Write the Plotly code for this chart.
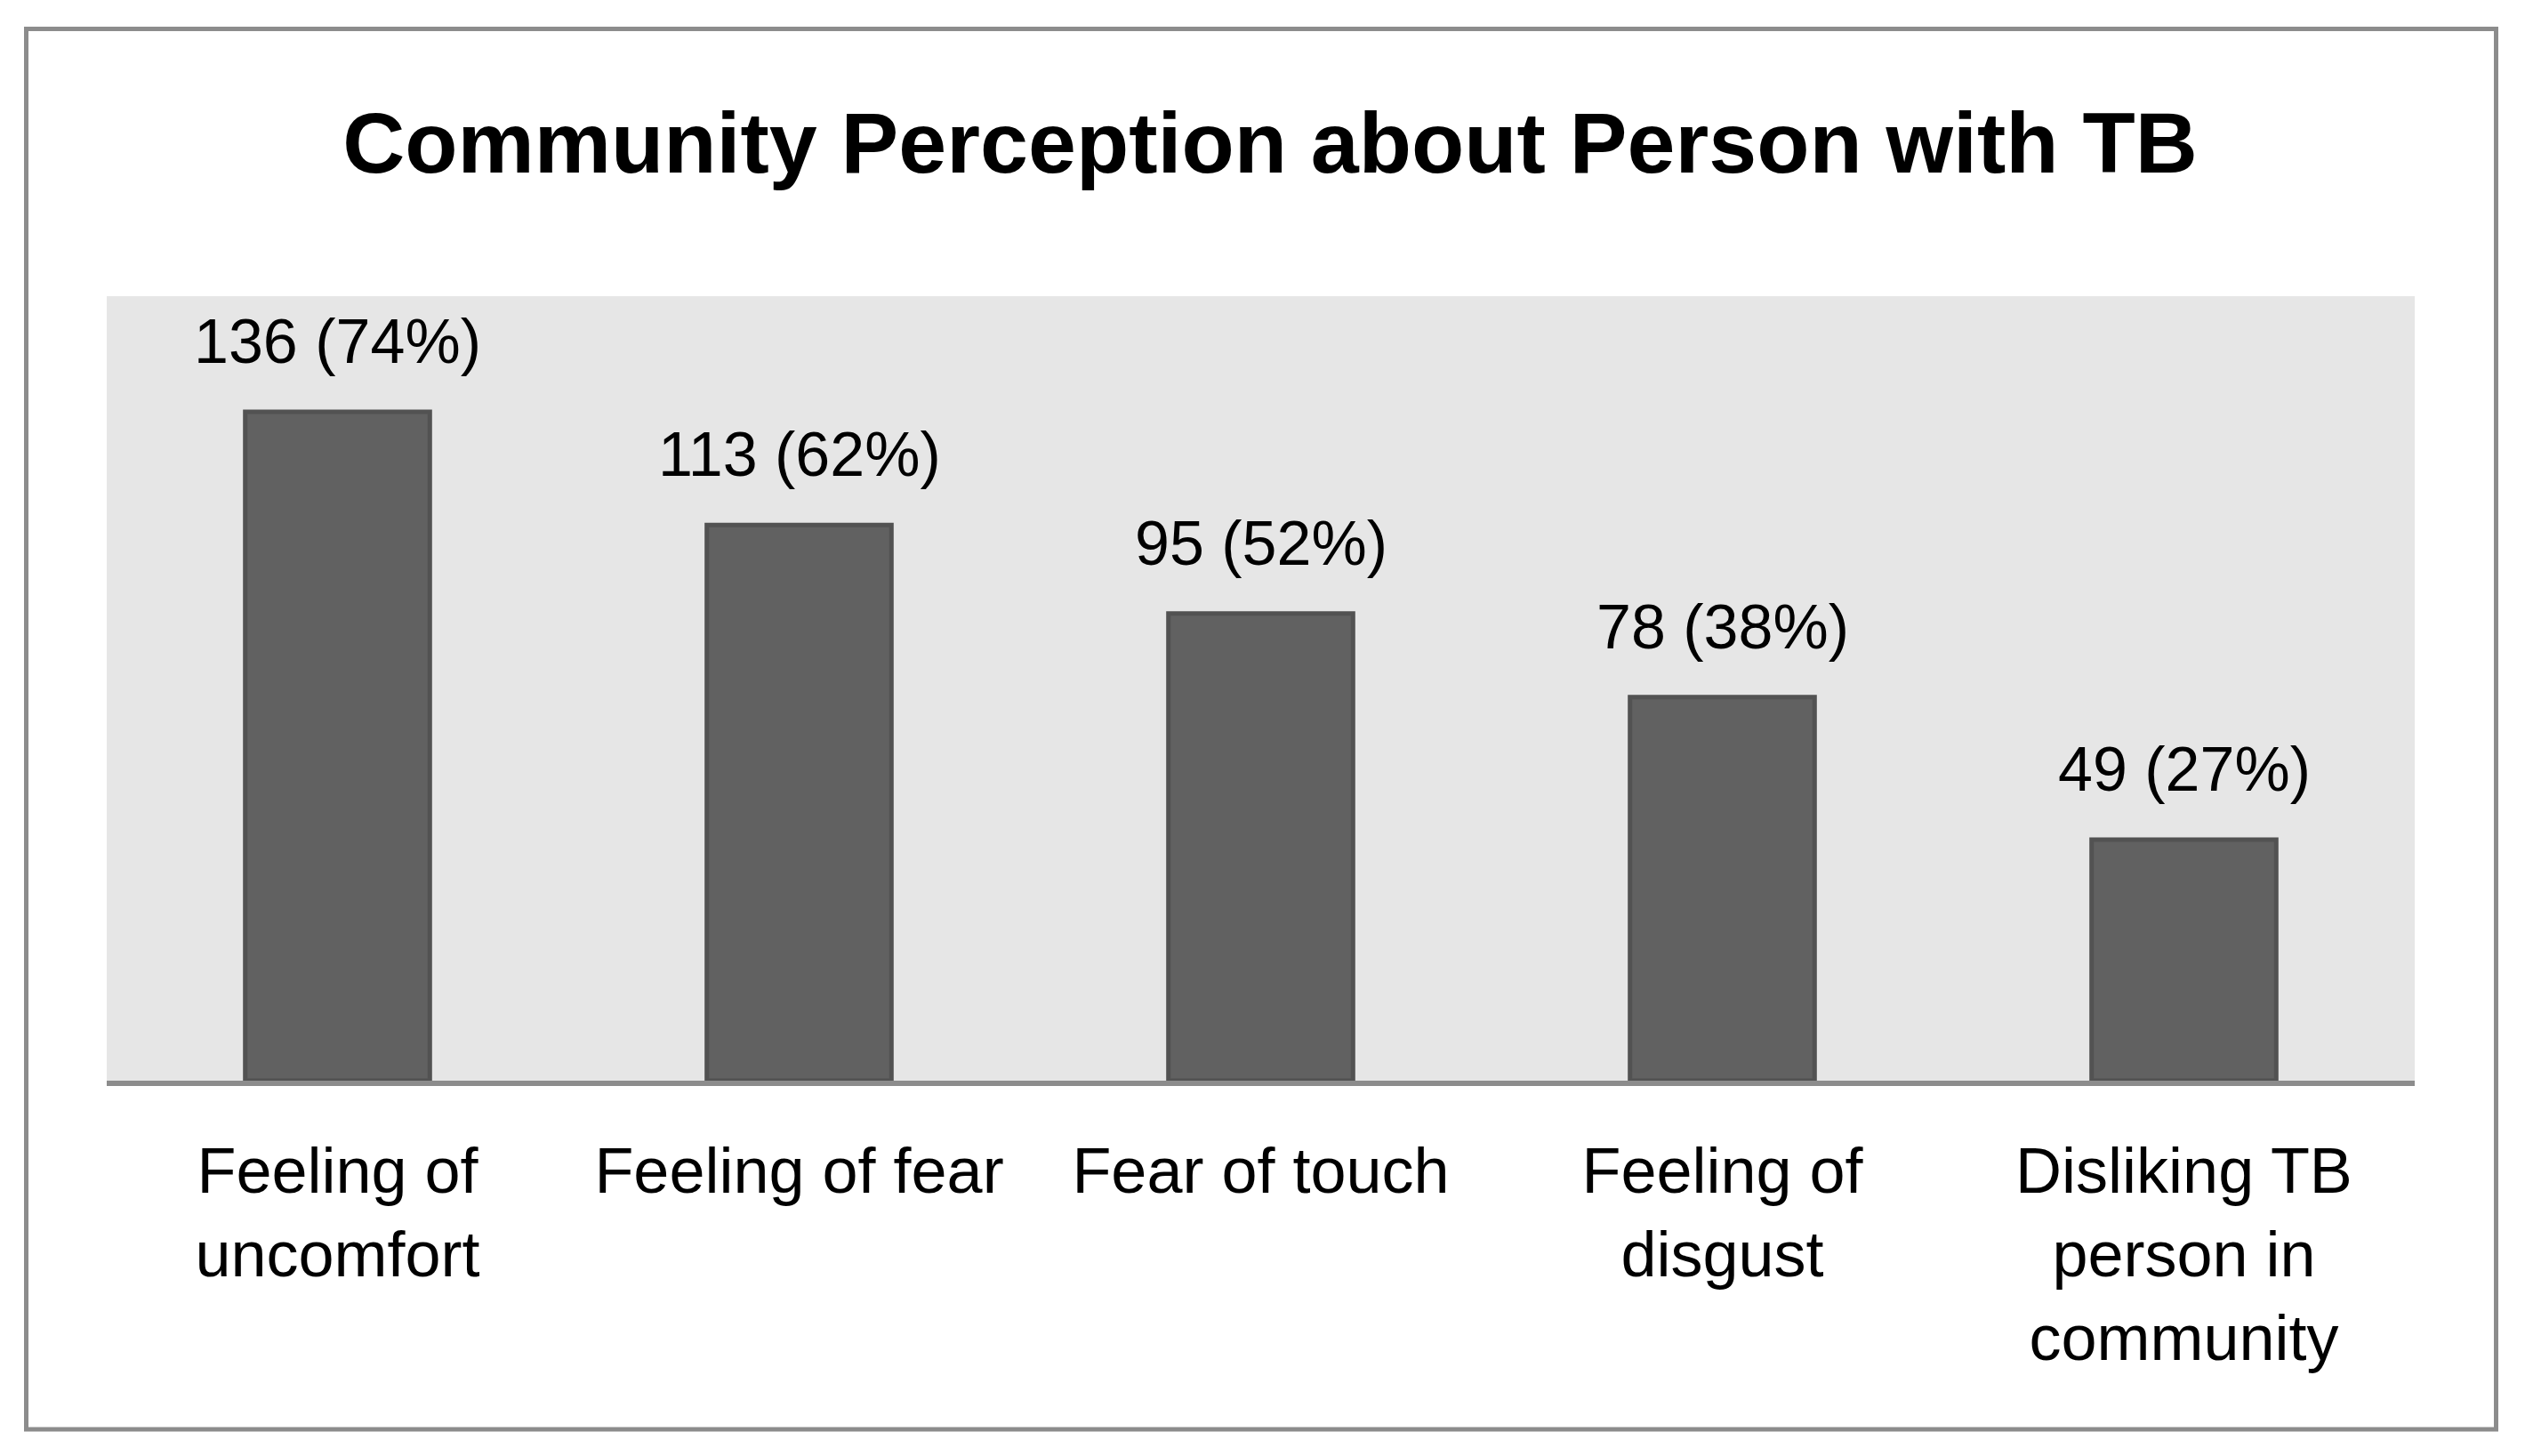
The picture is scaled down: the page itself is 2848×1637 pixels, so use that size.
import plotly.graph_objects as go

categories = ["Feeling of<br>uncomfort", "Feeling of fear", "Fear of touch",
              "Feeling of<br>disgust", "Disliking TB<br>person in<br>community"]
counts = [136, 113, 95, 78, 49]
percents = [74, 62, 52, 38, 27]

FONT = "Liberation Sans Narrow, Arial Narrow, Liberation Sans, Arial, sans-serif"

W, H = 2840, 1629
L, R, T, B = 112, 133, 325, 422
PW, PH = W - L - R, H - T - B

fig = go.Figure()
fig.add_trace(go.Bar(
    x=categories, y=counts,
    marker=dict(color="#616161", line=dict(color="#525252", width=5)),
    hoverinfo="skip",
))

for c, v, p in zip(categories, counts, percents):
    fig.add_annotation(x=c, y=v, xref="x", yref="y", text=f"{v} ({p}%)",
                       showarrow=False, yanchor="bottom", yshift=38,
                       font=dict(family=FONT, size=70, color="black"))

fig.update_layout(
    width=W, height=H,
    margin=dict(l=L, r=R, t=T, b=B, pad=0),
    paper_bgcolor="white", plot_bgcolor="#e6e6e6",
    bargap=0.6, showlegend=False,
    title=dict(text="<b>Community Perception about Person with TB</b>",
               x=0.5, xref="container", xanchor="center",
               y=1 - 152 / H, yref="container", yanchor="middle",
               font=dict(family=FONT, size=97, color="black")),
    xaxis=dict(showline=True, linecolor="#8c8c8c", linewidth=6,
               ticks="", showgrid=False, zeroline=False, ticklabelstandoff=34,
               tickfont=dict(family=FONT, size=72, color="black")),
    yaxis=dict(range=[0, 159.5], visible=False, showgrid=False, zeroline=False),
    shapes=[dict(type="rect", xref="paper", yref="paper",
                 x0=(21.5 - L) / PW, x1=(2798.5 - L) / PW,
                 y0=(H - B - 1599) / PH, y1=(H - B - 24.5) / PH,
                 line=dict(color="#8c8c8c", width=5), fillcolor="rgba(0,0,0,0)",
                 layer="above")],
)

fig.write_html("out.html")
